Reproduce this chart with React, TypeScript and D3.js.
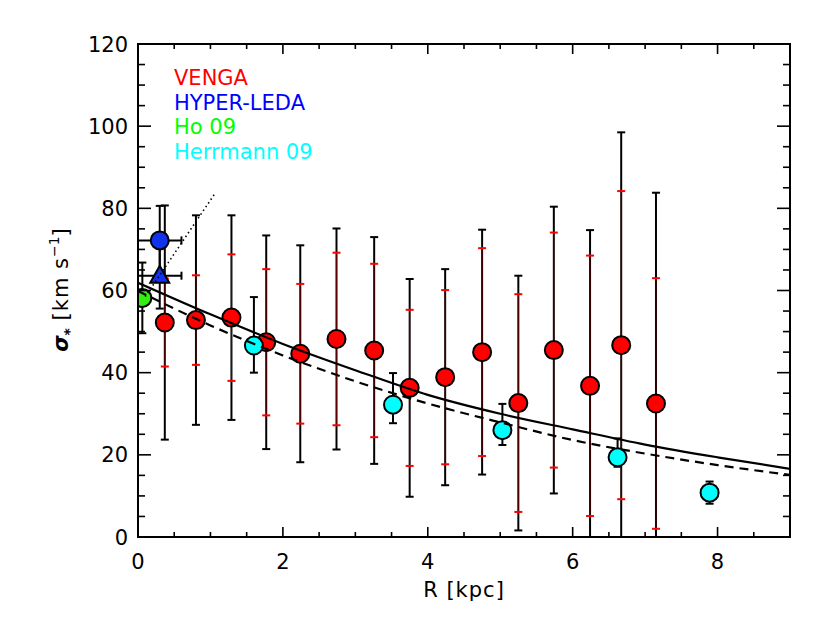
import React from 'react';
import * as d3 from 'd3';

// VENGA
const vengaR = [0.37, 0.80, 1.29, 1.77, 2.24, 2.74, 3.26, 3.75, 4.24, 4.75, 5.25, 5.74, 6.24, 6.67, 7.15];
const vengaSigma = [52.2, 52.8, 53.4, 47.4, 44.6, 48.2, 45.4, 36.3, 38.9, 45.0, 32.6, 45.5, 36.8, 46.7, 32.5];
const vengaErrTotal = [28.5, 25.5, 24.9, 26.0, 26.4, 26.9, 27.6, 26.5, 26.3, 29.8, 31.0, 34.9, 37.9, 51.8, 51.3];
const vengaErrRed = [10.7, 10.9, 15.4, 17.8, 17.0, 21.0, 21.1, 19.0, 21.2, 25.3, 26.5, 28.6, 31.7, 37.5, 30.5];

// HYPER-LEDA
const ledaR = [0.30, 0.30];
const ledaSigma = [72.2, 63.6];
const ledaErrR = [0.30, 0.30];
const ledaErrSigma = [8.4, 8.0];
const ledaShape = ['circle', 'triangle'];

// Ho 09
const hoR = [0.06];
const hoSigma = [58.2];
const hoErr = [8.6];

// Herrmann 09
const herR = [1.60, 3.52, 5.03, 6.62, 7.89];
const herSigma = [46.6, 32.2, 26.0, 19.4, 10.8];
const herErrUp = [11.8, 7.7, 6.4, 4.6, 2.7];
const herErrDown = [6.6, 4.5, 3.6, 2.3, 2.7];

// model curves
const modelR = [0, 1, 2, 3, 4, 5, 6, 7, 8, 9];
const modelSolid = [61.9, 54.2, 47.0, 40.6, 34.6, 30.0, 26.2, 22.5, 19.4, 16.6];
const modelDashed = [59.9, 51.5, 44.2, 37.9, 32.5, 27.9, 23.6, 20.3, 17.5, 15.1];
const dottedR = [0.10, 1.05];
const dottedSigma = [58.5, 83.3];

const xMajorTicks = [0, 2, 4, 6, 8];
const yMajorTicks = [0, 20, 40, 60, 80, 100, 120];

const legendLabels = ['VENGA', 'HYPER-LEDA', 'Ho 09', 'Herrmann 09'];
const legendColors = ['#ff0000', '#0000ff', '#00ff00', '#00ffff'];

const W = 830;
const H = 624;
const L = 138, R = 790, T = 44, B = 537;
const FONT = '"DejaVu Sans", sans-serif';

export default function App() {
  const x = d3.scaleLinear().domain([0, 9]).range([L, R]);
  const y = d3.scaleLinear().domain([0, 120]).range([B, T]);
  const xMinor = d3.range(0, 9.001, 0.5);
  const yMinor = d3.range(0, 120.001, 5);

  const line = d3.line<[number, number]>().x(d => x(d[0])).y(d => y(d[1])).curve(d3.curveMonotoneX);
  const solidPath = line(modelR.map((r, i) => [r, modelSolid[i]]))!;
  const dashedPath = line(modelR.map((r, i) => [r, modelDashed[i]]))!;
  const dottedPath = d3.line<[number, number]>().x(d => x(d[0])).y(d => y(d[1]))(dottedR.map((r, i) => [r, dottedSigma[i]]))!;

  const cap = 4;
  const rad = 9;

  const vbar = (cx: number, lo: number, hi: number, key: string, color = '#000', w = 2) => (
    <g key={key} stroke={color} strokeWidth={w} fill="none">
      <line x1={cx} x2={cx} y1={y(lo)} y2={y(hi)} />
      <line x1={cx - cap} x2={cx + cap} y1={y(lo)} y2={y(lo)} />
      <line x1={cx - cap} x2={cx + cap} y1={y(hi)} y2={y(hi)} />
    </g>
  );

  const tri = (cx: number, cy: number) => {
    const s = 9.5;
    return `M${cx},${cy - s * 1.05} L${cx + s},${cy + s * 0.75} L${cx - s},${cy + s * 0.75} Z`;
  };

  return (
    <svg width={W} height={H} style={{ position: 'absolute', left: 0, top: 0, background: '#fff' }} fontFamily={FONT}>
      <defs>
        <clipPath id="plotclip">
          <rect x={L} y={T} width={R - L} height={B - T} />
        </clipPath>
      </defs>
      <rect x={0} y={0} width={W} height={H} fill="#fff" />

      <g clipPath="url(#plotclip)">
        {vengaR.map((r, i) => {
          const cx = x(r);
          const lo = vengaSigma[i] - vengaErrTotal[i];
          const hi = vengaSigma[i] + vengaErrTotal[i];
          const rlo = vengaSigma[i] - vengaErrRed[i];
          const rhi = vengaSigma[i] + vengaErrRed[i];
          return (
            <g key={'v' + i}>
              {vbar(cx, lo, hi, 'vb' + i)}
              <line x1={cx} x2={cx} y1={y(rlo)} y2={y(rhi)} stroke="#ff0000" strokeWidth={0.8} strokeOpacity={0.45} />
              <line x1={cx - cap} x2={cx + cap} y1={y(rlo)} y2={y(rlo)} stroke="#ff0000" strokeWidth={2} />
              <line x1={cx - cap} x2={cx + cap} y1={y(rhi)} y2={y(rhi)} stroke="#ff0000" strokeWidth={2} />
            </g>
          );
        })}
        {herR.map((r, i) => vbar(x(r), herSigma[i] - herErrDown[i], herSigma[i] + herErrUp[i], 'h' + i))}
        {hoR.map((r, i) => vbar(x(r), hoSigma[i] - hoErr[i], hoSigma[i] + hoErr[i], 'ho' + i))}
        {ledaR.map((r, i) => (
          <g key={'l' + i} stroke="#000" strokeWidth={2}>
            {vbar(x(r), ledaSigma[i] - ledaErrSigma[i], ledaSigma[i] + ledaErrSigma[i], 'lv' + i)}
            <line x1={x(r - ledaErrR[i])} x2={x(r + ledaErrR[i])} y1={y(ledaSigma[i])} y2={y(ledaSigma[i])} />
            <line x1={x(r - ledaErrR[i])} x2={x(r - ledaErrR[i])} y1={y(ledaSigma[i]) - cap} y2={y(ledaSigma[i]) + cap} />
            <line x1={x(r + ledaErrR[i])} x2={x(r + ledaErrR[i])} y1={y(ledaSigma[i]) - cap} y2={y(ledaSigma[i]) + cap} />
          </g>
        ))}

        {vengaR.map((r, i) => (
          <circle key={'vm' + i} cx={x(r)} cy={y(vengaSigma[i])} r={rad} fill="#ff0000" stroke="#000" strokeWidth={2} />
        ))}
        {herR.map((r, i) => (
          <circle key={'hm' + i} cx={x(r)} cy={y(herSigma[i])} r={rad} fill="#00ffff" stroke="#000" strokeWidth={2} />
        ))}
        {hoR.map((r, i) => (
          <circle key={'hom' + i} cx={x(r)} cy={y(hoSigma[i])} r={rad} fill="#33ee11" stroke="#000" strokeWidth={2} />
        ))}
        {ledaR.map((r, i) =>
          ledaShape[i] === 'circle' ? (
            <circle key={'lm' + i} cx={x(r)} cy={y(ledaSigma[i])} r={rad} fill="#1133ee" stroke="#000" strokeWidth={2} />
          ) : (
            <path key={'lm' + i} d={tri(x(r), y(ledaSigma[i]))} fill="#1133ee" stroke="#000" strokeWidth={2} strokeLinejoin="miter" />
          )
        )}

        <path d={solidPath} fill="none" stroke="#000" strokeWidth={2.2} />
        <path d={dashedPath} fill="none" stroke="#000" strokeWidth={2.2} strokeDasharray="9,6" />
        <path d={dottedPath} fill="none" stroke="#000" strokeWidth={1.6} strokeDasharray="1.5,3" />
      </g>

      <rect x={L} y={T} width={R - L} height={B - T} fill="none" stroke="#000" strokeWidth={2} />
      <g stroke="#000" strokeWidth={1.6}>
        {xMinor.map((v, i) => {
          const major = xMajorTicks.includes(v);
          const len = major ? 10 : 5;
          return (
            <g key={'xt' + i}>
              <line x1={x(v)} x2={x(v)} y1={B} y2={B - len} />
              <line x1={x(v)} x2={x(v)} y1={T} y2={T + len} />
            </g>
          );
        })}
        {yMinor.map((v, i) => {
          const major = yMajorTicks.includes(v);
          const len = major ? 13 : 7;
          return (
            <g key={'yt' + i}>
              <line x1={L} x2={L + len} y1={y(v)} y2={y(v)} />
              <line x1={R} x2={R - len} y1={y(v)} y2={y(v)} />
            </g>
          );
        })}
      </g>

      <g fontSize={21} fill="#000">
        {xMajorTicks.map(v => (
          <text key={'xl' + v} x={x(v)} y={569} textAnchor="middle">{v}</text>
        ))}
        {yMajorTicks.map(v => (
          <text key={'yl' + v} x={128} y={y(v) + 7.5} textAnchor="end">{v}</text>
        ))}
      </g>

      <text x={(L + R) / 2} y={597} textAnchor="middle" fontSize={21} letterSpacing={1}>R [kpc]</text>
      <text transform="translate(68,290) rotate(-90)" textAnchor="middle" fontSize={21}>
        <tspan fontStyle="italic" fontWeight="bold">σ</tspan>
        <tspan fontSize={14} dy={6} fontWeight="bold">*</tspan>
        <tspan dy={-6} letterSpacing={1}> [km s</tspan>
        <tspan fontSize={14} dy={-9}>−1</tspan>
        <tspan dy={9}>]</tspan>
      </text>

      <g fontSize={21}>
        {legendLabels.map((lab, i) => (
          <text key={lab} x={174} y={85 + i * 24.7} fill={legendColors[i]}>{lab}</text>
        ))}
      </g>
    </svg>
  );
}
